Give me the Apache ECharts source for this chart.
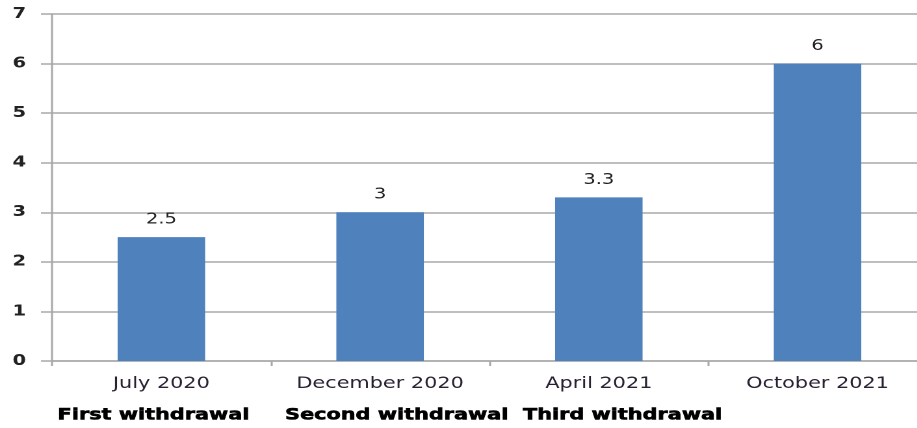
<!DOCTYPE html>
<html>
<head>
<meta charset="utf-8">
<script src="https://cdn.jsdelivr.net/npm/echarts@6/dist/echarts.min.js"></script>
<style>
  html, body { margin: 0; padding: 0; background: #fff; overflow: hidden; width: 917px; height: 428px; }
  /* chart is drawn narrow and widened horizontally, giving the wide lettering */
  #chart { width: 713px; height: 428px; transform: scaleX(1.3); transform-origin: 0 0; }
</style>
</head>
<body>
<div id="chart"></div>
<script>
// Withdrawal dates and amounts
const categories = ['July 2020', 'December 2020', 'April 2021', 'October 2021'];
const values = [2.5, 3, 3.3, 6];
const stageNames = ['First withdrawal', 'Second withdrawal', 'Third withdrawal'];
const yTicks = [0, 1, 2, 3, 4, 5, 6, 7];

const chart = echarts.init(document.getElementById('chart'), null, { devicePixelRatio: 2 });
const lineColor = '#a8a8a8';
const textColor = '#222';
const font = 'DejaVu Sans';

// Stage captions under the first three dates
const stageLeft = [44, 219, 402];
const graphics = stageNames.map((name, i) => ({
  type: 'text',
  left: stageLeft[i],
  top: 407,
  style: {
    text: name,
    fontFamily: font,
    fontWeight: 'bold',
    fontSize: 16,
    fill: '#000',
    stroke: '#000',
    lineWidth: 0.6
  }
}));

chart.setOption({
  animation: false,
  grid: { left: 40, right: 0, top: 14, bottom: 67, containLabel: false, outerBoundsMode: 'none' },
  xAxis: {
    type: 'category',
    data: categories,
    axisLine: { lineStyle: { color: lineColor, width: 1.5 } },
    axisTick: { show: true, length: 5, alignWithLabel: false, lineStyle: { color: lineColor, width: 1.5 } },
    axisLabel: { color: '#2a2233', fontFamily: font, fontSize: 16, margin: 15 }
  },
  yAxis: {
    type: 'value',
    min: yTicks[0],
    max: yTicks[yTicks.length - 1],
    interval: 1,
    axisLine: { show: true, lineStyle: { color: lineColor, width: 1.5 } },
    axisTick: { show: true, length: 8.5, lineStyle: { color: lineColor, width: 1.5 } },
    splitLine: { lineStyle: { color: lineColor, width: 1.5 } },
    axisLabel: { color: textColor, fontFamily: font, fontWeight: 'bold', fontSize: 15, margin: 20 }
  },
  series: [{
    type: 'bar',
    data: values,
    barWidth: '40%',
    itemStyle: { color: '#4F81BD' },
    label: {
      show: true,
      position: 'top',
      distance: 10,
      color: textColor,
      fontFamily: font,
      fontSize: 15
    }
  }],
  graphic: graphics
});
</script>
</body>
</html>
